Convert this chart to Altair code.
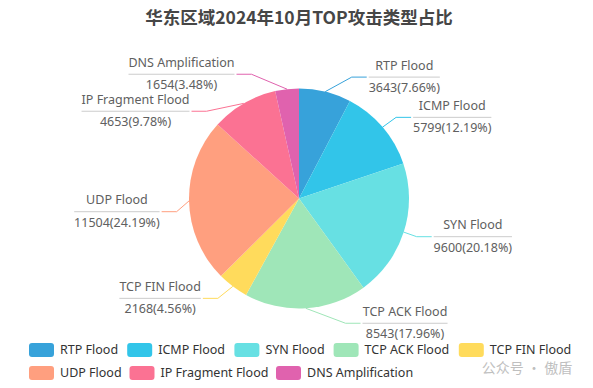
import math
import altair as alt
import pandas as pd

# ---------------- data ----------------
TITLE = "华东区域2024年10月TOP攻击类型占比"
categories = ["RTP Flood", "ICMP Flood", "SYN Flood", "TCP ACK Flood",
              "TCP FIN Flood", "UDP Flood", "IP Fragment Flood", "DNS Amplification"]
counts = [3643, 5799, 9600, 8543, 2168, 11504, 4653, 1654]
colors = ["#37A2DA", "#32C5E9", "#67E0E3", "#9FE6B8",
          "#FFDB5C", "#FF9F7F", "#FB7293", "#E062AE"]
WATERMARK = "公众号 · 傲盾"

# ---------------- layout / style ----------------
W, H = 577, 372
CX, CY = 291, 190.5
R = 110
LEN1, LEN2, LDIST = 15, 15, 2
LABEL_H = 37
FONT = "Noto Sans"
FS = 12.5
LABEL_COLOR = "#606060"

# approx advance widths (em) for Noto Sans
CW = {" ": 0.26, "(": 0.296, ")": 0.296, ".": 0.268, "%": 0.826,
      "A": 0.639, "B": 0.648, "C": 0.632, "D": 0.729, "E": 0.556, "F": 0.522,
      "G": 0.726, "H": 0.752, "I": 0.329, "K": 0.619, "L": 0.525, "M": 0.907,
      "N": 0.755, "O": 0.779, "P": 0.603, "R": 0.618, "S": 0.549, "T": 0.553,
      "U": 0.730, "Y": 0.568,
      "a": 0.561, "c": 0.479, "d": 0.615, "e": 0.564, "f": 0.344, "g": 0.615,
      "h": 0.618, "i": 0.258, "l": 0.258, "m": 0.932, "n": 0.618, "o": 0.605,
      "p": 0.615, "r": 0.408, "s": 0.479, "t": 0.361, "u": 0.618}
for d in "0123456789":
    CW[d] = 0.572


def text_w(s):
    return sum(CW.get(ch, 0.6) for ch in s) * FS


total = sum(counts)
items = []
cum = 0
for i, (cat, c) in enumerate(zip(categories, counts)):
    a0 = cum / total
    cum += c
    a1 = cum / total
    mid = (a0 + a1) / 2 * 2 * math.pi
    dx, dy = math.sin(mid), -math.cos(mid)
    x1, y1 = CX + R * dx, CY + R * dy
    y2 = y1 + LEN1 * dy
    x2 = x1 + LEN1 * dx
    d = 1 if dx >= 0 else -1
    items.append(dict(i=i, cat=cat, count=c, pct=c / total * 100,
                      x1=x1, y1=y1, y=y2, x=x2 + d * LEN2, dir=d))


def adjust(lst):
    lst.sort(key=lambda it: it["y"])
    n = len(lst)

    def shift_up(end, delta):
        for j in range(end, -1, -1):
            if lst[j]["y"] - delta < 0:
                break
            lst[j]["y"] -= delta
            if j > 0 and lst[j]["y"] > lst[j - 1]["y"] + LABEL_H:
                break

    def shift_down(start, end, delta):
        for j in range(start, end):
            if lst[j]["y"] + delta > H:
                break
            lst[j]["y"] += delta
            if j > start and j + 1 < end and lst[j + 1]["y"] > lst[j]["y"] + LABEL_H:
                shift_up(j, delta / 2)
                return
        shift_up(end - 1, delta / 2)

    last = 0
    for k in range(n):
        delta = lst[k]["y"] - last
        if delta < 0:
            shift_down(k, n, -delta)
        last = lst[k]["y"] + LABEL_H


adjust([it for it in items if it["dir"] > 0])
adjust([it for it in items if it["dir"] < 0])

RR = R + LEN1
for it in items:
    dyy = abs(it["y"] - CY)
    if dyy < RR:
        ddx = math.sqrt((RR + LEN2) ** 2 - dyy ** 2)
    else:
        ddx = abs(it["x"] - CX)
    it["x"] = CX + it["dir"] * ddx

line_rows, rule_rows, text_rows = [], [], []
for it in items:
    d = it["dir"]
    x3 = it["x"] - d * LDIST
    x2 = x3 - d * LEN2
    line_rows += [dict(cat=it["cat"], p=0, x=it["x1"], y=it["y1"]),
                  dict(cat=it["cat"], p=1, x=x2, y=it["y"]),
                  dict(cat=it["cat"], p=2, x=x3, y=it["y"])]
    name = it["cat"]
    val = f"{it['count']}({it['pct']:.2f}%)"
    bw = max(text_w(name), text_w(val))
    rule_rows.append(dict(x=it["x"], x2=it["x"] + d * bw, y=it["y"]))
    cxb = it["x"] + d * bw / 2
    text_rows.append(dict(x=cxb, y=it["y"] - 11.5, t=name))
    text_rows.append(dict(x=cxb, y=it["y"] + 11, t=val))

pie_df = pd.DataFrame({"cat": categories, "count": counts, "idx": list(range(len(categories)))})
line_df = pd.DataFrame(line_rows)
rule_df = pd.DataFrame(rule_rows)
text_df = pd.DataFrame(text_rows)

color_scale = alt.Scale(domain=categories, range=colors)

SYM = ("M-1.357,-1 L1.357,-1 Q1.786,-1 1.786,-0.57 L1.786,0.57 Q1.786,1 1.357,1 "
       "L-1.357,1 Q-1.786,1 -1.786,0.57 L-1.786,-0.57 Q-1.786,-1 -1.357,-1 Z")

ROW1, ROW2 = categories[:5], categories[5:]


def make_legend(values, y, pad):
    return alt.Legend(
        title=None, orient="none", legendX=26.5, legendY=y,
        direction="horizontal", values=values,
        symbolType=SYM, symbolSize=196, symbolStrokeWidth=0, symbolOpacity=1,
        labelFont=FONT, labelFontSize=FS, labelColor="#333333", labelOffset=11.5,
        columnPadding=pad, padding=0, labelLimit=200,
    )


pie = alt.Chart(pie_df).mark_arc(radius=R).encode(
    theta=alt.Theta("count:Q", stack=True),
    color=alt.Color("cat:N", scale=color_scale, legend=make_legend(ROW1, 335, 8.2)),
    order=alt.Order("idx:Q"),
    x=alt.value(CX),
    y=alt.value(CY),
)

legend2 = alt.Chart(pie_df[pie_df["idx"] >= 5]).mark_point(opacity=0, filled=True).encode(
    fill=alt.Fill("cat:N", scale=alt.Scale(domain=ROW2, range=colors[5:]),
                  legend=make_legend(ROW2, 358, 6.5)),
    x=alt.value(CX),
    y=alt.value(CY),
)

lines = alt.Chart(line_df).mark_line(strokeWidth=1).encode(
    x=alt.X("x:Q", scale=None, axis=None),
    y=alt.Y("y:Q", scale=None, axis=None),
    color=alt.Color("cat:N", scale=color_scale, legend=None),
    detail="cat:N",
    order=alt.Order("p:Q"),
)

rules = alt.Chart(rule_df).mark_rule(color="#cccccc", strokeWidth=1).encode(
    x=alt.X("x:Q", scale=None, axis=None),
    x2="x2:Q",
    y=alt.Y("y:Q", scale=None, axis=None),
)

texts = alt.Chart(text_df).mark_text(
    font=FONT, fontSize=FS, color=LABEL_COLOR, align="center", baseline="middle"
).encode(
    x=alt.X("x:Q", scale=None, axis=None),
    y=alt.Y("y:Q", scale=None, axis=None),
    text="t:N",
)

title = alt.Chart(pd.DataFrame({"t": [TITLE]})).mark_text(
    font="Noto Sans CJK SC", fontSize=17.5, fontWeight="bold", color="#464646",
    align="center", baseline="middle"
).encode(x=alt.value(291), y=alt.value(10.5), text="t:N")

wm = alt.Chart(pd.DataFrame({"t": [WATERMARK]})).mark_text(
    font="Noto Sans CJK SC", fontSize=14, color="#8c8c8c", opacity=0.55,
    align="center", baseline="middle"
).encode(x=alt.value(519), y=alt.value(361), text="t:N")

chart = alt.layer(pie, legend2, lines, rules, texts, title, wm).properties(
    width=W, height=H, padding=0, autosize="none"
).configure_view(stroke=None)

chart.save("out.html", embed_options={"renderer": "svg", "actions": False})
